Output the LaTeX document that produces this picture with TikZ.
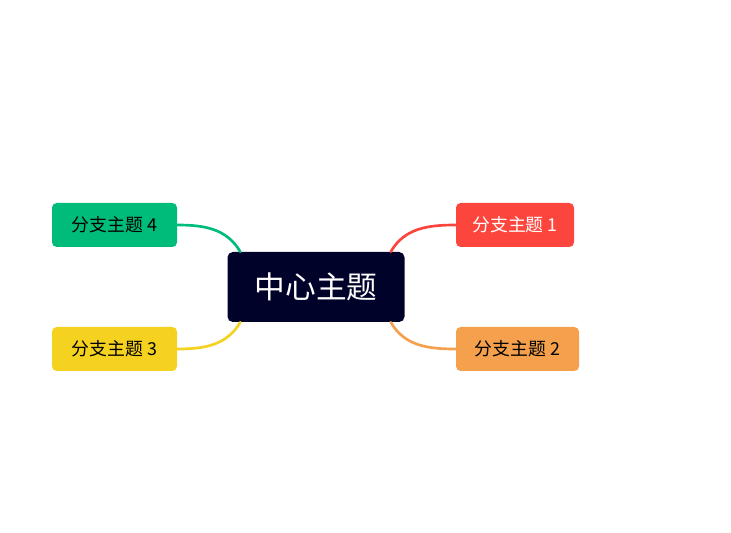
\documentclass[tikz,border=0pt]{standalone}
\usepackage{fontspec}
\setmainfont{Noto Sans CJK SC}
\usepackage{tikz}

\definecolor{navy}{HTML}{00022A}
\definecolor{redtopic}{HTML}{FC463D}
\definecolor{orangetopic}{HTML}{F5A04C}
\definecolor{greentopic}{HTML}{00BC7B}
\definecolor{yellowtopic}{HTML}{F4D21F}

\begin{document}
\begin{tikzpicture}[x=0.75pt,y=0.75pt,
    topic/.style={rounded corners=3.5pt,minimum height=33pt,inner sep=0pt,font=\fontsize{13.4}{16}\selectfont},
    branch/.style={line width=2pt,line cap=round}]
  % Canvas
  \useasboundingbox (0,0) rectangle (731,532);

  % Central topic
  \node[fill=navy,text=white,rounded corners=4pt,minimum width=132.75pt,minimum height=52.5pt,
        inner sep=0pt,font=\fontsize{23}{27}\selectfont] (main) at (316,245) {中心主题};

  % Branch topics
  \node[topic,fill=redtopic,text=white,minimum width=88.5pt] (t1) at (515,307) {分支主题 1};
  \node[topic,fill=orangetopic,minimum width=92.25pt] (t2) at (517.5,183) {分支主题 2};
  \node[topic,fill=yellowtopic,minimum width=93.75pt] (t3) at (114.5,183) {分支主题 3};
  \node[topic,fill=greentopic,minimum width=93.75pt] (t4) at (114.5,307) {分支主题 4};

  % Connectors
  \draw[branch,redtopic] ([xshift=-10.5pt]main.north east) to[out=60,in=180] (t1.west);
  \draw[branch,orangetopic] ([xshift=-10.5pt]main.south east) to[out=-60,in=180] (t2.west);
  \draw[branch,yellowtopic] ([xshift=9.75pt]main.south west) to[out=-120,in=0] (t3.east);
  \draw[branch,greentopic] ([xshift=9.75pt]main.north west) to[out=120,in=0] (t4.east);
\end{tikzpicture}
\end{document}
